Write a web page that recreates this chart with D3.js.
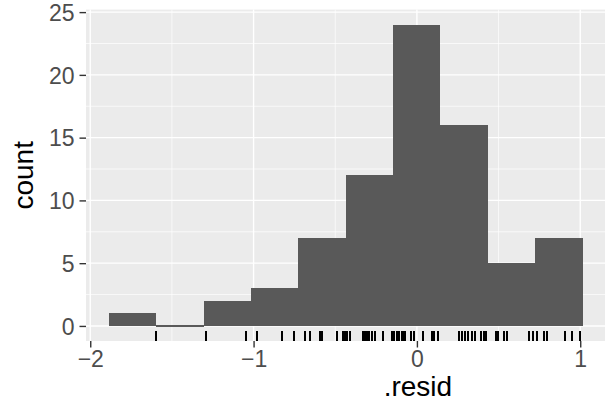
<!DOCTYPE html>
<html>
<head>
<meta charset="utf-8">
<script src="https://cdn.jsdelivr.net/npm/d3@7"></script>
<style>
  body { margin: 0; background: #fff; }
  text { font-family: "Liberation Sans", Arial, sans-serif; }
</style>
</head>
<body>
<div id="chart"></div>
<script>
// histogram bins (left edges) and counts
var binEdges = [-1.886, -1.596, -1.306, -1.016, -0.726, -0.436, -0.146, 0.144, 0.434, 0.724, 1.014];
var binCounts = [1, 0, 2, 3, 7, 12, 24, 16, 5, 7];

// residuals shown in the rug
var rugValues = [-1.595, -1.293, -1.048, -0.982, -0.828, -0.750, -0.684, -0.655, -0.594, -0.581,
  -0.491, -0.451, -0.441, -0.430, -0.412, -0.330, -0.321, -0.312, -0.303, -0.294, -0.275, -0.257,
  -0.206, -0.155, -0.148, -0.141, -0.124, -0.116, -0.108, -0.093, -0.086, -0.073, -0.038, -0.018,
  0.039, 0.090, 0.106, 0.131, 0.259, 0.276, 0.294, 0.314, 0.335, 0.355, 0.390, 0.410, 0.426,
  0.484, 0.498, 0.535, 0.553, 0.688, 0.709, 0.733, 0.778, 0.798, 0.909, 0.947, 1.000];

var xTicks = [-2, -1, 0, 1];
var xMinor = [-1.5, -0.5, 0.5];
var yTicks = [0, 5, 10, 15, 20, 25];
var yMinor = [2.5, 7.5, 12.5, 17.5, 22.5];

/* ****** sizes ****** */
var width = 605;
var height = 412;
var panel = { left: 86, top: 9.6, bottom: 341 };

var svg = d3.select("#chart")
  .append("svg")
  .attr("width", width)
  .attr("height", height);

var x = d3.scaleLinear()
  .domain([-2.026, 1.17])
  .range([panel.left, panel.left + 3.196 * 163.33]);

var y = d3.scaleLinear()
  .domain([-1.2, 25.2])
  .range([panel.bottom, panel.top]);

var bins = binCounts.map(function (c, i) {
  return { x0: binEdges[i], x1: binEdges[i + 1], count: c };
});

// panel background
svg.append("rect")
  .attr("x", panel.left)
  .attr("y", panel.top)
  .attr("width", width - panel.left)
  .attr("height", panel.bottom - panel.top)
  .attr("fill", "#EBEBEB");

var grid = svg.append("g");
grid.selectAll(".xminor").data(xMinor).enter().append("line")
  .attr("x1", d => x(d)).attr("x2", d => x(d))
  .attr("y1", panel.top).attr("y2", panel.bottom)
  .attr("stroke", "#fff").attr("stroke-width", 0.7);
grid.selectAll(".yminor").data(yMinor).enter().append("line")
  .attr("x1", panel.left).attr("x2", width)
  .attr("y1", d => y(d)).attr("y2", d => y(d))
  .attr("stroke", "#fff").attr("stroke-width", 0.7);
grid.selectAll(".xmajor").data(xTicks).enter().append("line")
  .attr("x1", d => x(d)).attr("x2", d => x(d))
  .attr("y1", panel.top).attr("y2", panel.bottom)
  .attr("stroke", "#fff").attr("stroke-width", 1.4);
grid.selectAll(".ymajor").data(yTicks).enter().append("line")
  .attr("x1", panel.left).attr("x2", width)
  .attr("y1", d => y(d)).attr("y2", d => y(d))
  .attr("stroke", "#fff").attr("stroke-width", 1.4);

// bars (an empty bin still shows as a thin line at zero)
svg.append("g").selectAll("rect")
  .data(bins)
  .enter().append("rect")
  .attr("x", d => x(d.x0))
  .attr("width", d => x(d.x1) - x(d.x0))
  .attr("y", d => d.count > 0 ? y(d.count) : y(0) - 0.6)
  .attr("height", d => d.count > 0 ? y(0) - y(d.count) : 1.2)
  .attr("fill", "#595959")
  .attr("shape-rendering", "crispEdges");

// rug
svg.append("g").selectAll("line")
  .data(rugValues)
  .enter().append("line")
  .attr("x1", d => x(d)).attr("x2", d => x(d))
  .attr("y1", panel.bottom - 10).attr("y2", panel.bottom)
  .attr("stroke", "#000").attr("stroke-width", 2)
  .attr("shape-rendering", "crispEdges");

/* ****** axes ****** */
var xAxis = svg.append("g")
  .attr("transform", "translate(0," + panel.bottom + ")")
  .call(d3.axisBottom(x).tickValues(xTicks).tickSize(6.5).tickPadding(3)
    .tickFormat(d => d < 0 ? "\u2212" + Math.abs(d) : d));
var yAxis = svg.append("g")
  .attr("transform", "translate(" + panel.left + ",0)")
  .call(d3.axisLeft(y).tickValues(yTicks).tickSize(6.5).tickPadding(5));

[xAxis, yAxis].forEach(function (a) {
  a.select(".domain").remove();
  a.selectAll(".tick line").attr("stroke", "#333333").attr("stroke-width", 1.4);
  a.selectAll(".tick text")
    .attr("fill", "#4D4D4D")
    .style("font-size", "23px");
});
yAxis.selectAll(".tick text").attr("dy", "0.36em");

svg.append("text")
  .attr("x", x(0) + 1)
  .attr("y", 396)
  .attr("text-anchor", "middle")
  .style("font-size", "28px")
  .text(".resid");

svg.append("text")
  .attr("transform", "translate(33," + ((panel.top + panel.bottom) / 2) + ") rotate(-90)")
  .attr("text-anchor", "middle")
  .style("font-size", "28px")
  .text("count");
</script>
</body>
</html>
